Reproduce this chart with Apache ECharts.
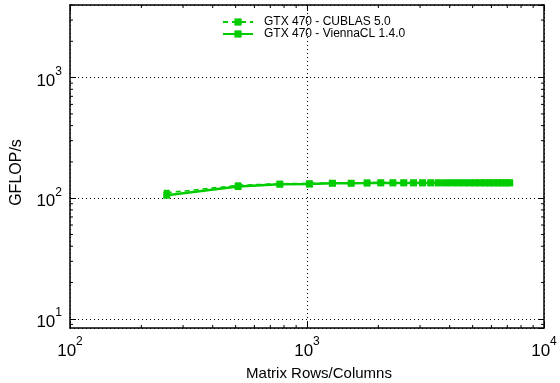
<!DOCTYPE html>
<html>
<head>
<meta charset="utf-8">
<script src="https://cdn.jsdelivr.net/npm/echarts@6/dist/echarts.min.js"></script>
<style>html,body{margin:0;padding:0;background:#fff}#c{width:560px;height:383px}</style>
</head>
<body>
<div id="c"></div>
<script>
// ---- data ----
const sizes = [256, 512, 768, 1024, 1280, 1536, 1792, 2048, 2304, 2560, 2816, 3072, 3328, 3584,
  3840, 4096, 4352, 4608, 4864, 5120, 5376, 5632, 5888, 6144, 6400, 6656, 6912, 7168];
const cublas = [111, 128, 132, 133, 134, 134, 135, 135, 135, 135, 135, 135, 135, 135,
  135, 135, 135, 135, 135, 135, 135, 135, 135, 135, 135, 135, 135, 135];
const vienna = [106, 125, 130.5, 131, 133, 133, 133.5, 134, 134, 134, 134, 134, 134, 134,
  134, 134, 134, 134, 134, 134, 134, 134, 134, 134, 134, 134, 134, 134];
const seriesNames = ['GTX 470 - CUBLAS 5.0', 'GTX 470 - ViennaCL 1.4.0'];
const xMinorTicks = [200, 300, 400, 500, 600, 700, 800, 900, 2000, 3000, 4000, 5000, 6000, 7000, 8000, 9000];
const yMinorTicks = [9, 20, 30, 40, 50, 60, 70, 80, 90, 200, 300, 400, 500, 600, 700, 800, 900, 2000, 3000, 4000];
const X_MIN = 100, X_MAX = 10000, Y_MIN = 8.4, Y_MAX = 4000;

const GREEN = '#00cc00';
const FONT = 'Liberation Sans';

function powLabel(v) {
  const e = Math.log10(v);
  const r = Math.round(e);
  if (Math.abs(e - r) > 1e-6) return '';
  return '{b|10}{s|' + r + '}';
}
const rich = {
  b: { fontSize: 17, fontFamily: FONT, color: '#000', lineHeight: 24, verticalAlign: 'bottom' },
  s: { fontSize: 12, fontFamily: FONT, color: '#000', lineHeight: 24, verticalAlign: 'top' }
};
const axisLine = { show: true, lineStyle: { color: '#000', width: 1.5 } };
const tickStyle = { show: true, inside: true, length: 6, lineStyle: { color: '#000', width: 1 } };
const gridLine = { show: true, lineStyle: { color: '#000', width: 1, type: [1, 3] } };

function minorX(params, api) {
  const x = api.value(0);
  const b = api.coord([x, Y_MIN]);
  const t = api.coord([x, Y_MAX]);
  const st = { stroke: '#000', lineWidth: 1 };
  return { type: 'group', children: [
    { type: 'line', shape: { x1: b[0], y1: b[1], x2: b[0], y2: b[1] - 3 }, style: st },
    { type: 'line', shape: { x1: t[0], y1: t[1], x2: t[0], y2: t[1] + 3 }, style: st }
  ]};
}
function minorY(params, api) {
  const y = api.value(1);
  const l = api.coord([X_MIN, y]);
  const r = api.coord([X_MAX, y]);
  const st = { stroke: '#000', lineWidth: 1 };
  return { type: 'group', children: [
    { type: 'line', shape: { x1: l[0], y1: l[1], x2: l[0] + 3, y2: l[1] }, style: st },
    { type: 'line', shape: { x1: r[0], y1: r[1], x2: r[0] - 3, y2: r[1] }, style: st }
  ]};
}

const chart = echarts.init(document.getElementById('c'), null, { renderer: 'canvas' });
chart.setOption({
  animation: false,
  backgroundColor: '#fff',
  grid: { left: 70, right: 16, top: 5, bottom: 55, containLabel: false, outerBoundsMode: 'none' },
  legend: {
    data: seriesNames,
    orient: 'vertical',
    left: 222, top: 16, padding: 0,
    itemWidth: 30, itemHeight: 9, itemGap: 0,
    textStyle: { fontFamily: FONT, fontSize: 12, lineHeight: 12, color: '#000', padding: [0, 0, 0, 6] }
  },
  xAxis: [
    { type: 'log', min: X_MIN, max: X_MAX, position: 'bottom',
      axisLine, axisTick: tickStyle, splitLine: gridLine,
      axisLabel: { formatter: powLabel, rich, margin: 8 },
      name: 'Matrix Rows/Columns', nameLocation: 'middle', nameGap: 38,
      nameTextStyle: { fontFamily: FONT, fontSize: 15, color: '#000', padding: [0, 0, 0, 24] } },
    { type: 'log', min: X_MIN, max: X_MAX, position: 'top',
      axisLine, axisTick: tickStyle, splitLine: { show: false }, axisLabel: { show: false } }
  ],
  yAxis: [
    { type: 'log', min: Y_MIN, max: Y_MAX, position: 'left',
      axisLine, axisTick: tickStyle, splitLine: gridLine,
      axisLabel: { formatter: powLabel, rich, margin: 8, showMinLabel: false, showMaxLabel: false },
      name: 'GFLOP/s', nameLocation: 'middle', nameGap: 45, nameRotate: 90,
      nameTextStyle: { fontFamily: FONT, fontSize: 16, color: '#000', padding: [0, 12, 0, 0] } },
    { type: 'log', min: Y_MIN, max: Y_MAX, position: 'right',
      axisLine, axisTick: tickStyle, splitLine: { show: false }, axisLabel: { show: false } }
  ],
  series: [
    { type: 'custom', silent: true, renderItem: minorX, data: xMinorTicks.map(v => [v, Y_MIN]), z: 5 },
    { type: 'custom', silent: true, renderItem: minorY, data: yMinorTicks.map(v => [X_MIN, v]), z: 5 },
    { name: seriesNames[0], type: 'line', data: sizes.map((s, i) => [s, cublas[i]]),
      symbol: 'rect', symbolSize: 6, color: GREEN,
      lineStyle: { width: 1.5, type: [5, 4], color: GREEN }, itemStyle: { color: GREEN }, z: 10 },
    { name: seriesNames[1], type: 'line', data: sizes.map((s, i) => [s, vienna[i]]),
      symbol: 'rect', symbolSize: 7, color: GREEN,
      lineStyle: { width: 2.5, color: GREEN }, itemStyle: { color: GREEN }, z: 11 }
  ]
});
</script>
</body>
</html>
